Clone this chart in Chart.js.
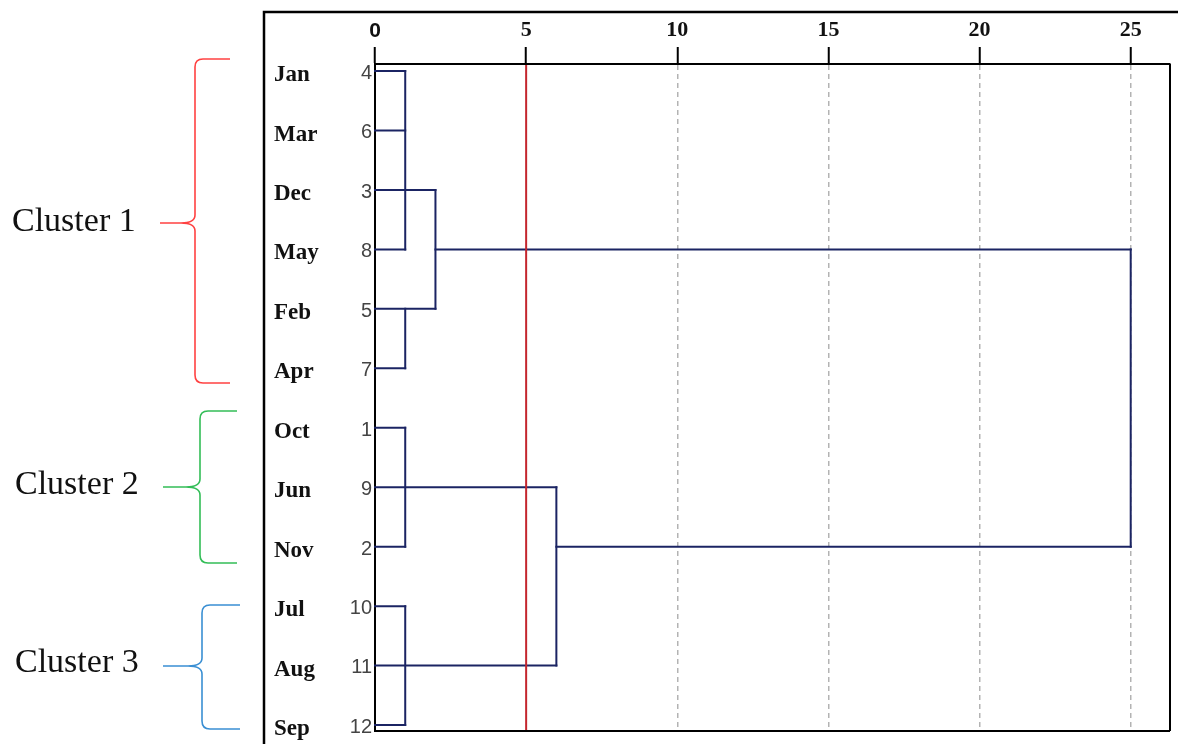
<!DOCTYPE html>
<html>
<head>
<meta charset="utf-8">
<script src="https://cdn.jsdelivr.net/npm/chart.js@4/dist/chart.umd.min.js"></script>
<style>
  html, body { margin: 0; padding: 0; background: #fff; }
  #wrap { width: 1178px; height: 744px; position: relative; }
</style>
</head>
<body>
<div id="wrap"><canvas id="c" width="1178" height="744"></canvas></div>
<script>
// ---- data ----
const months = ['Jan','Mar','Dec','May','Feb','Apr','Oct','Jun','Nov','Jul','Aug','Sep'];
const caseNumbers = [4,6,3,8,5,7,1,9,2,10,11,12];
const distanceTicks = [0,5,10,15,20,25];
const cutoffDistance = 5;
const clusterNames = ['Cluster 1','Cluster 2','Cluster 3'];
const clusterRows = [[0,5],[6,8],[9,11]];
// horizontal links: [row, fromDistance, toDistance]
const horizontalLinks = [
  [0,0,1],[1,0,1],[3,0,1],[2,0,2],[4,0,2],[5,0,1],[3,2,25],
  [6,0,1],[8,0,1],[7,0,6],[9,0,1],[11,0,1],[10,0,6],[8,6,25]
];
// vertical links: [distance, fromRow, toRow]
const verticalLinks = [
  [1,0,3],[1,4,5],[2,2,4],[1,6,8],[1,9,11],[6,7,10],[25,3,8]
];

const NAVY = '#1b2463';
const datasets = [];
horizontalLinks.forEach(([row, x0, x1]) => {
  datasets.push({ data: [{x: x0, y: row}, {x: x1, y: row}] });
});
verticalLinks.forEach(([d, r0, r1]) => {
  datasets.push({ data: [{x: d, y: r0}, {x: d, y: r1}] });
});
datasets.forEach(ds => Object.assign(ds, {
  showLine: true, borderColor: NAVY, borderWidth: 2, pointRadius: 0,
  borderCapStyle: 'square', yAxisID: 'yNum', xAxisID: 'x', clip: false
}));

const rowMin = -0.118, rowMax = 11.1;
// labels sit slightly below their link lines in the reference
const rowTicks = shift => s => { s.ticks = months.map((_, i) => ({value: i + shift})); };

const cutoffPlugin = {
  id: 'cutoff',
  afterDatasetsDraw(chart) {
    const {ctx, chartArea, scales} = chart;
    const x = scales.x.getPixelForValue(cutoffDistance);
    ctx.save();
    ctx.strokeStyle = '#c4262e';
    ctx.lineWidth = 2;
    ctx.beginPath();
    ctx.moveTo(x, chartArea.top + 1);
    ctx.lineTo(x, chartArea.bottom);
    ctx.stroke();
    ctx.restore();
  }
};

const framePlugin = {
  id: 'frame',
  afterDraw(chart) {
    const {ctx, chartArea: a} = chart;
    ctx.save();
    ctx.strokeStyle = '#000';
    ctx.lineWidth = 2;
    ctx.beginPath();
    ctx.moveTo(a.left, a.bottom); ctx.lineTo(a.right, a.bottom);
    ctx.moveTo(a.right, a.top); ctx.lineTo(a.right, a.bottom);
    ctx.stroke();
    // outer frame (top and left)
    ctx.lineWidth = 2.5;
    ctx.beginPath();
    ctx.moveTo(264, 744); ctx.lineTo(264, 12); ctx.lineTo(1178, 12);
    ctx.stroke();
    ctx.restore();
  }
};

const bracesPlugin = {
  id: 'braces',
  afterDraw(chart) {
    const {ctx} = chart;
    const specs = [
      {top: 59,  bottom: 383, tip: 223, vx: 195, right: 230, tipX: 160, color: '#ff4141', tx: 12, ty: 222},
      {top: 411, bottom: 563, tip: 487, vx: 200, right: 237, tipX: 163, color: '#33bd57', tx: 15, ty: 485},
      {top: 605, bottom: 729, tip: 666, vx: 202, right: 240, tipX: 163, color: '#3a8fd3', tx: 15, ty: 663}
    ];
    specs.forEach((b, i) => {
      ctx.save();
      ctx.strokeStyle = b.color;
      ctx.lineWidth = 1.6;
      ctx.beginPath();
      ctx.moveTo(b.right, b.top);
      ctx.lineTo(b.vx + 8, b.top);
      ctx.quadraticCurveTo(b.vx, b.top, b.vx, b.top + 8);
      ctx.lineTo(b.vx, b.tip - 8);
      ctx.quadraticCurveTo(b.vx, b.tip, b.vx - 14, b.tip);
      ctx.lineTo(b.tipX, b.tip);
      ctx.moveTo(b.vx - 14, b.tip);
      ctx.quadraticCurveTo(b.vx, b.tip, b.vx, b.tip + 8);
      ctx.lineTo(b.vx, b.bottom - 8);
      ctx.quadraticCurveTo(b.vx, b.bottom, b.vx + 8, b.bottom);
      ctx.lineTo(b.right, b.bottom);
      ctx.stroke();
      ctx.fillStyle = '#111';
      ctx.font = '34px "Liberation Serif", "Times New Roman", serif';
      ctx.textAlign = 'left';
      ctx.textBaseline = 'middle';
      ctx.fillText(clusterNames[i], b.tx, b.ty);
      ctx.restore();
    });
  }
};

const serifBold = { family: '"Liberation Serif", "Times New Roman", serif', size: 22, weight: 'bold' };
const sansTick = { family: '"Liberation Sans", Arial, sans-serif', size: 21, weight: 'bold' };

new Chart(document.getElementById('c'), {
  type: 'scatter',
  data: { datasets },
  options: {
    responsive: false,
    animation: false,
    events: [],
    layout: { padding: { left: 274, right: 8, top: 12, bottom: 12 } },
    plugins: { legend: { display: false }, tooltip: { enabled: false } },
    scales: {
      x: {
        type: 'linear',
        position: 'top',
        min: 0,
        max: 26.3,
        afterBuildTicks: s => { s.ticks = distanceTicks.map(v => ({value: v})); },
        afterFit: s => { s.height = 52; },
        ticks: {
          autoSkip: false,
          maxRotation: 0,
          padding: 3,
          color: '#111',
          font: ctx => (ctx.tick && ctx.tick.value === 0) ? sansTick : serifBold
        },
        grid: {
          drawOnChartArea: true,
          drawTicks: true,
          tickLength: 17,
          tickColor: '#000',
          tickWidth: 2,
          lineWidth: 1.5,
          color: ctx => (ctx.tick && (ctx.tick.value === 0 || ctx.tick.value === cutoffDistance)) ? 'rgba(0,0,0,0)' : '#b3b3b3'
        },
        border: { display: true, color: '#000', width: 2, dash: [5, 4] }
      },
      yNum: {
        type: 'linear',
        position: 'left',
        reverse: true,
        min: rowMin,
        max: rowMax,
        weight: 0,
        afterBuildTicks: rowTicks(0.04),
        afterFit: s => { s.width = 44; },
        ticks: {
          autoSkip: false,
          padding: 3,
          color: '#444',
          font: { family: '"Liberation Sans", Arial, sans-serif', size: 20, lineHeight: 1 },
          callback: v => caseNumbers[Math.round(v)]
        },
        grid: { display: false, drawTicks: false },
        border: { display: true, color: '#000', width: 2 }
      },
      yMonth: {
        type: 'linear',
        position: 'left',
        reverse: true,
        min: rowMin,
        max: rowMax,
        weight: 1,
        afterBuildTicks: rowTicks(0.07),
        afterFit: s => { s.width = 57; },
        ticks: {
          autoSkip: false,
          padding: 0,
          crossAlign: 'far',
          color: '#111',
          font: { family: '"Liberation Serif", "Times New Roman", serif', size: 23, weight: 'bold', lineHeight: 1 },
          callback: v => months[Math.round(v)]
        },
        grid: { display: false, drawTicks: false },
        border: { display: false }
      }
    }
  },
  plugins: [cutoffPlugin, framePlugin, bracesPlugin]
});
</script>
</body>
</html>
